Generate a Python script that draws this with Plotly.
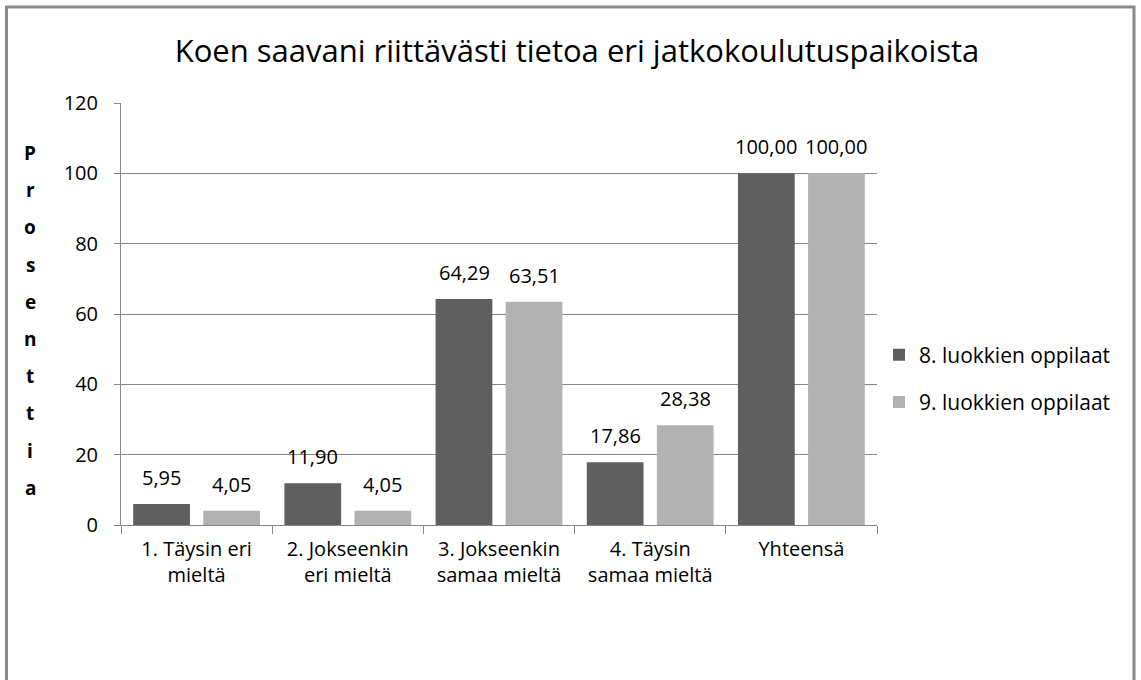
import plotly.graph_objects as go

categories = ["1. Täysin eri<br>mieltä", "2. Jokseenkin<br>eri mieltä", "3. Jokseenkin<br>samaa mieltä",
              "4. Täysin<br>samaa mieltä", "Yhteensä"]
series_names = ["8. luokkien oppilaat", "9. luokkien oppilaat"]
values_8 = [5.95, 11.90, 64.29, 17.86, 100.00]
values_9 = [4.05, 4.05, 63.51, 28.38, 100.00]
colors = ["#5f5f5f", "#b2b2b2"]
title_text = "Koen saavani riittävästi tietoa eri jatkokoulutuspaikoista"
y_title_letters = list("Prosenttia")

FONT = "Open Sans"
PL, PR, PT, PB = 121, 877, 103, 525  # plot area in pixels
PW, PH = PR - PL, PB - PT

def fmt(v):
    return f"{v:.2f}".replace(".", ",")

fig = go.Figure()
for i, (name, vals) in enumerate(zip(series_names, [values_8, values_9])):
    fig.add_trace(go.Bar(
        x=categories, y=vals, name=name, marker=dict(color=colors[i], line=dict(width=0)),
        legendgroup=f"g{i}",
    ))

annotations = []
# data labels above bars
for i, vals in enumerate([values_8, values_9]):
    for c, v in zip(categories, vals):
        annotations.append(dict(
            x=c, y=v, xref="x", yref="y", text=fmt(v), showarrow=False,
            xshift=-35 if i == 0 else 35, yanchor="bottom", yshift=11,
            font=dict(family=FONT, size=20, color="#000000"),
        ))
# vertical y-axis title, one letter per line
top_px, step_px = 153, 37.2
for k, ch in enumerate(y_title_letters):
    py = top_px + k * step_px
    annotations.append(dict(
        text=f"<b>{ch}</b>", x=(30 - PL) / PW, y=(PB - py) / PH, xref="paper", yref="paper",
        showarrow=False, xanchor="center", yanchor="middle",
        font=dict(family=FONT, size=19, color="#000000"),
    ))

fig.update_layout(
    width=1141, height=680,
    margin=dict(l=PL, r=1141 - PR, t=PT, b=680 - PB, autoexpand=False),
    paper_bgcolor="white", plot_bgcolor="white",
    title=dict(text=title_text, x=577 / 1141, xref="container", xanchor="center", y=1 - 51 / 680,
               yanchor="middle", font=dict(family=FONT, size=31, color="#000000")),
    barmode="group", bargap=0.073, bargroupgap=0.19,
    showlegend=True,
    legend=dict(x=(879 - PL) / PW, y=(PB - 378.5) / PH, xanchor="left", yanchor="middle", tracegroupgap=17,
                font=dict(family=FONT, size=21, color="#000000"), itemwidth=30,
                bgcolor="rgba(0,0,0,0)"),
    annotations=annotations,
    font=dict(family=FONT, color="#000000"),
    shapes=[dict(type="rect", xref="paper", yref="paper",
                 x0=(6.5 - PL) / PW, x1=(1134 - PL) / PW,
                 y0=(PB - 700) / PH, y1=(PB - 7) / PH,
                 line=dict(color="#8a8a8a", width=3), fillcolor="rgba(0,0,0,0)", layer="below")],
)
fig.update_xaxes(showline=True, linecolor="#868686", linewidth=1, ticks="outside", tickson="boundaries",
                 ticklen=8, tickcolor="#868686", showgrid=False, ticklabelstandoff=6,
                 tickfont=dict(family=FONT, size=20, color="#000000"))
fig.update_yaxes(range=[0, 120], dtick=20, showline=True, linecolor="#868686", linewidth=1,
                 ticks="outside", ticklen=6, tickcolor="#868686", showgrid=True, gridcolor="#868686",
                 gridwidth=1, zeroline=False, tickfont=dict(family=FONT, size=20, color="#000000"),
                 ticklabelstandoff=12)

fig.write_html("out.html", config={"displayModeBar": False},
               post_script="document.body.style.margin='0px';")
